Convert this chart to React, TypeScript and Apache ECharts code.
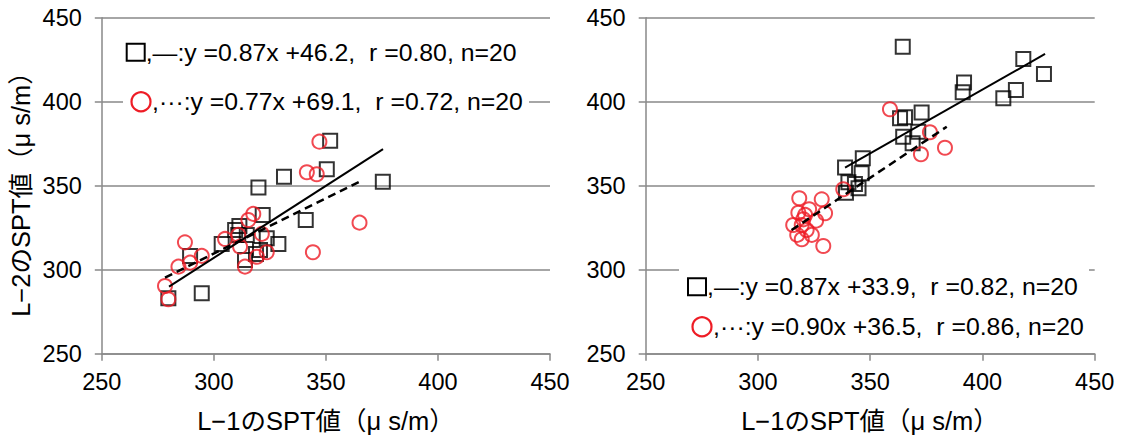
import React, { useEffect, useRef } from "react";
import * as echarts from "echarts";

// L-1 (x) vs L-2 (y) SPT values, μs/m
const leftSquares: [number, number][] = [
  [351.9, 376.8], [350.4, 359.8], [331.3, 355.4], [319.9, 349.0], [375.4, 352.4],
  [341.0, 329.6], [321.8, 332.6], [311.4, 326.0], [309.5, 323.6], [310.9, 320.7],
  [314.7, 320.7], [303.5, 315.3], [323.6, 318.7], [328.8, 315.3], [320.6, 311.7],
  [318.8, 309.3], [313.9, 305.8], [289.4, 308.2], [294.6, 286.0], [279.7, 283.0],
];
const leftCircles: [number, number][] = [
  [347.1, 376.2], [341.5, 358.0], [345.9, 356.8], [365.0, 328.0], [344.2, 310.4],
  [317.6, 333.2], [315.4, 329.6], [287.1, 316.3], [305.0, 318.3], [310.9, 320.7],
  [311.7, 313.7], [321.4, 321.3], [323.6, 310.4], [319.2, 307.7], [313.9, 301.8],
  [294.6, 308.2], [289.4, 304.2], [284.2, 301.8], [278.2, 290.3], [279.7, 282.4],
];
const rightSquares: [number, number][] = [
  [364.5, 432.7], [418.2, 425.4], [427.4, 416.5], [414.9, 407.0], [409.3, 402.0],
  [391.8, 411.5], [391.2, 405.6], [363.3, 390.1], [365.5, 390.7], [372.9, 393.5],
  [371.4, 382.1], [364.7, 379.2], [368.9, 375.2], [346.7, 366.3], [346.2, 357.4],
  [338.8, 360.9], [343.2, 351.0], [339.2, 345.8], [340.3, 352.0], [344.8, 348.5],
];
const rightCircles: [number, number][] = [
  [358.8, 395.5], [376.6, 381.8], [372.6, 368.7], [383.3, 372.6], [338.0, 347.9],
  [318.4, 342.5], [328.4, 341.9], [318.0, 333.9], [321.0, 332.6], [325.9, 329.2],
  [329.9, 333.6], [315.7, 326.6], [319.5, 326.6], [321.7, 323.6], [317.5, 320.7],
  [319.5, 318.1], [324.0, 320.7], [329.1, 314.1], [322.8, 336.0], [320.2, 330.0],
];

// regression line end points
const leftSolid: [number, number][] = [[280.0, 289.9], [375.5, 371.8]];
const leftDashed: [number, number][] = [[278.2, 295.3], [365.6, 352.8]];
const rightSolid: [number, number][] = [[338.8, 360.7], [427.9, 428.4]];
const rightDashed: [number, number][] = [[315.0, 323.6], [384.1, 385.1]];

const leftStats = [
  ",―:y =0.87x +46.2,  r =0.80, n=20",
  ",···:y =0.77x +69.1,  r =0.72, n=20",
];
const rightStats = [
  ",―:y =0.87x +33.9,  r =0.82, n=20",
  ",···:y =0.90x +36.5,  r =0.86, n=20",
];

const xTitle = "L−1のSPT値（μ s/m）";
const yTitle = "L−2のSPT値（μ s/m）";

const AXIS_MIN = 250;
const AXIS_MAX = 450;
const AXIS_STEP = 50;

const GRAY = "#898989";
const RED = "#ee1c25";
const FONT = "'Liberation Sans', 'Noto Sans CJK JP', sans-serif";

function makeAxes(gridIndex: number) {
  const label = { fontSize: 23.5, color: "#000", fontFamily: FONT };
  return {
    x: {
      type: "value",
      gridIndex,
      min: AXIS_MIN,
      max: AXIS_MAX,
      interval: AXIS_STEP,
      axisLine: { show: true, onZero: false, lineStyle: { color: GRAY, width: 1.5 } },
      axisTick: { show: true, length: 7, lineStyle: { color: GRAY, width: 1.5 } },
      axisLabel: { ...label, margin: 17 },
      splitLine: { show: false },
    },
    y: {
      type: "value",
      gridIndex,
      min: AXIS_MIN,
      max: AXIS_MAX,
      interval: AXIS_STEP,
      axisLine: { show: true, onZero: false, lineStyle: { color: GRAY, width: 1.5 } },
      axisTick: { show: true, length: 7, lineStyle: { color: GRAY, width: 1.5 } },
      axisLabel: { ...label, margin: 20 },
      splitLine: { show: true, lineStyle: { color: GRAY, width: 1.5 } },
    },
  };
}

function pointSeries(idx: number, squares: [number, number][], circles: [number, number][]) {
  return [
    {
      type: "scatter",
      xAxisIndex: idx,
      yAxisIndex: idx,
      symbol: "rect",
      symbolSize: [14, 14],
      data: squares,
      itemStyle: { color: "rgba(0,0,0,0)", borderColor: "#000", borderWidth: 2 },
      z: 3,
    },
    {
      type: "scatter",
      xAxisIndex: idx,
      yAxisIndex: idx,
      symbol: "circle",
      symbolSize: 14,
      data: circles,
      itemStyle: { color: "rgba(0,0,0,0)", borderColor: RED, borderWidth: 2 },
      z: 4,
    },
  ];
}

function trendSeries(idx: number, solid: [number, number][], dashed: [number, number][]) {
  return [
    {
      type: "line",
      xAxisIndex: idx,
      yAxisIndex: idx,
      data: solid,
      symbol: "none",
      lineStyle: { color: "#000", width: 2 },
      z: 5,
    },
    {
      type: "line",
      xAxisIndex: idx,
      yAxisIndex: idx,
      data: dashed,
      symbol: "none",
      lineStyle: { color: "#000", width: 2.5, type: [8, 5] },
      z: 5,
    },
  ];
}

function statsBox(
  box: { x: number; y: number; w: number; h: number },
  sq: { cx: number; cy: number },
  ci: { cx: number; cy: number },
  lines: string[]
) {
  const textStyle = { fontSize: 24.8, fill: "#000", fontFamily: FONT, verticalAlign: "middle", align: "left" };
  return [
    { type: "rect", z: 50, shape: { x: box.x, y: box.y, width: box.w, height: box.h }, style: { fill: "#fff" } },
    {
      type: "rect",
      z: 51,
      shape: { x: sq.cx - 9, y: sq.cy - 8.5, width: 18, height: 17 },
      style: { fill: "none", stroke: "#000", lineWidth: 2 },
    },
    { type: "text", z: 51, x: sq.cx + 10, y: sq.cy, style: { ...textStyle, text: lines[0] } },
    {
      type: "circle",
      z: 51,
      shape: { cx: ci.cx, cy: ci.cy, r: 9.5 },
      style: { fill: "none", stroke: RED, lineWidth: 2.2 },
    },
    { type: "text", z: 51, x: ci.cx + 11, y: ci.cy, style: { ...textStyle, text: lines[1] } },
  ];
}

export default function App() {
  const ref = useRef<HTMLDivElement>(null);

  useEffect(() => {
    document.body.style.margin = "0";
    if (!ref.current) return;
    const chart = echarts.init(ref.current, undefined, { renderer: "svg" });
    const a0 = makeAxes(0);
    const a1 = makeAxes(1);
    const titleStyle = { fontSize: 25.5, fill: "#000", fontFamily: FONT, align: "center", verticalAlign: "middle" };

    chart.setOption({
      animation: false,
      backgroundColor: "#fff",
      grid: [
        { left: 101.8, top: 17.7, width: 448.2, height: 336 },
        { left: 645.7, top: 17.7, width: 449, height: 336 },
      ],
      xAxis: [a0.x, a1.x],
      yAxis: [a0.y, a1.y],
      series: [
        ...pointSeries(0, leftSquares, leftCircles),
        ...trendSeries(0, leftSolid, leftDashed),
        ...pointSeries(1, rightSquares, rightCircles),
        ...trendSeries(1, rightSolid, rightDashed),
      ],
      graphic: [
        ...statsBox({ x: 123, y: 32, w: 406, h: 88 }, { cx: 135.7, cy: 52.3 }, { cx: 141, cy: 101.7 }, leftStats),
        ...statsBox({ x: 679, y: 263, w: 410, h: 82 }, { cx: 697, cy: 286.7 }, { cx: 702, cy: 326.7 }, rightStats),
        { type: "text", x: 326, y: 421, style: { ...titleStyle, text: xTitle } },
        { type: "text", x: 870, y: 421, style: { ...titleStyle, text: xTitle } },
        { type: "text", x: 21, y: 188, rotation: Math.PI / 2, style: { ...titleStyle, text: yTitle } },
      ],
    });
    return () => chart.dispose();
  }, []);

  return <div ref={ref} style={{ width: 1121, height: 439 }} />;
}
